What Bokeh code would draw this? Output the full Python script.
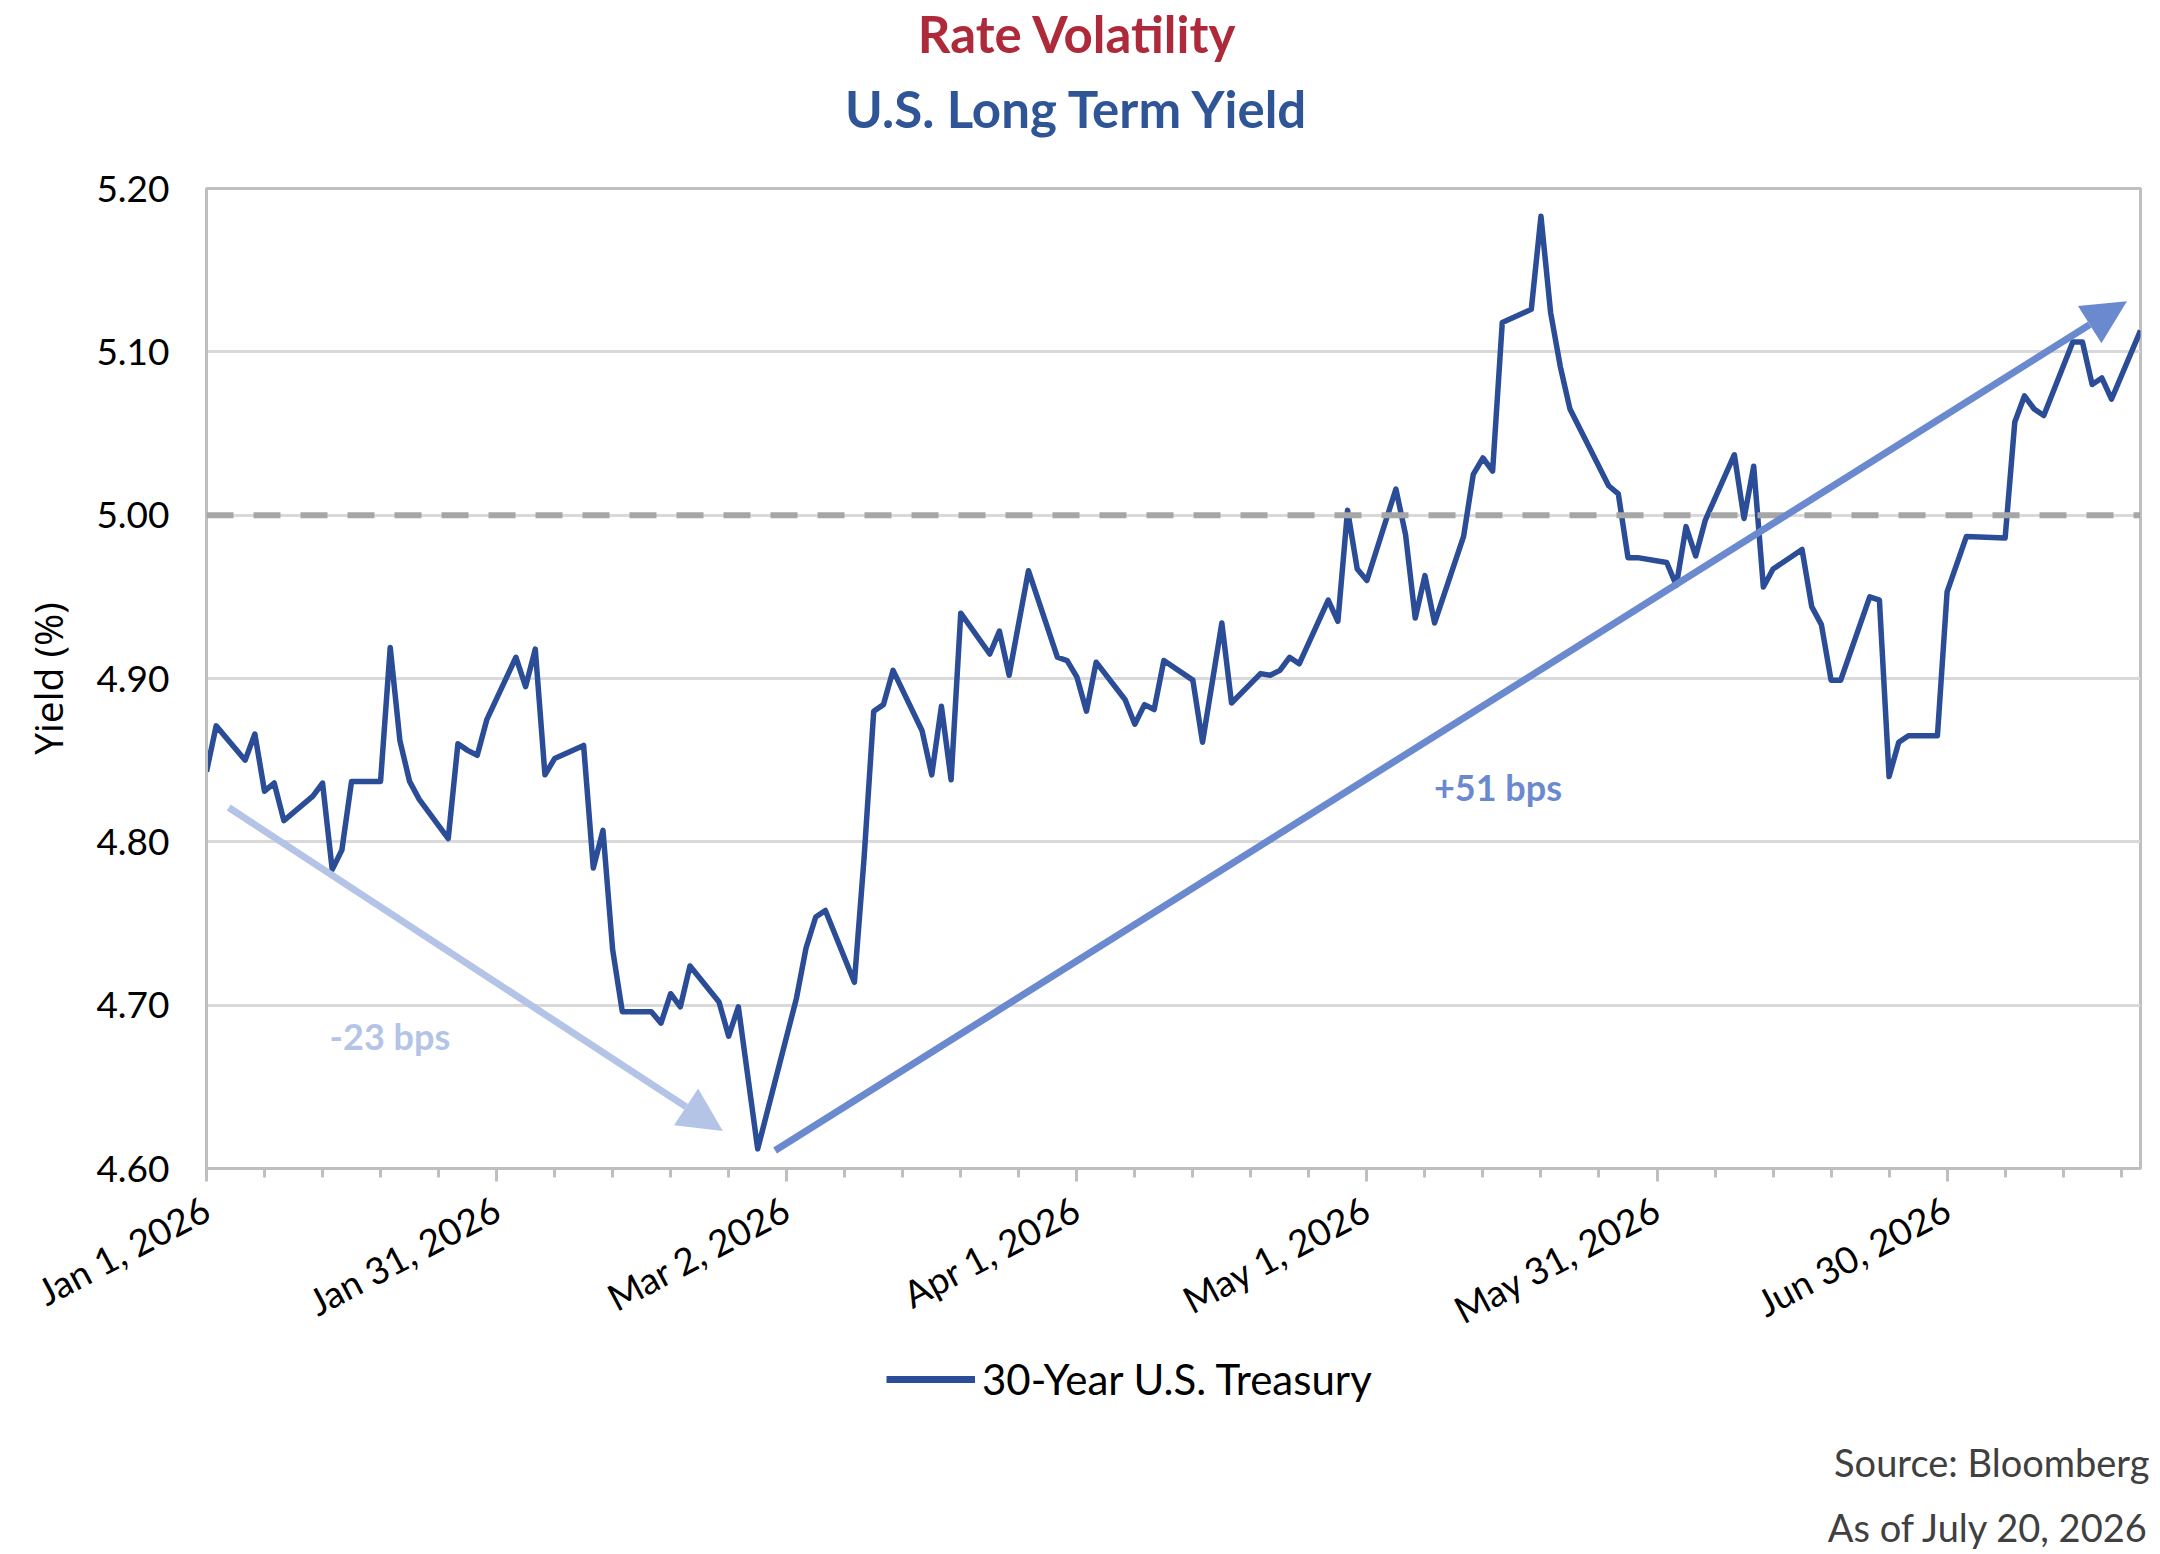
import math
import pandas as pd
from bokeh.plotting import figure
from bokeh.layouts import column
from bokeh.models import (Range1d, FixedTicker, Arrow, NormalHead, Label, Legend,
                          LegendItem, Span)
from bokeh.embed import file_html
from bokeh.resources import INLINE

# ---------------- data ----------------
START = pd.Timestamp("2026-01-01")
END = pd.Timestamp("2026-07-20")

dates = [
    "2026-01-01", "2026-01-02", "2026-01-05", "2026-01-06", "2026-01-07", "2026-01-08",
    "2026-01-09", "2026-01-12", "2026-01-13", "2026-01-14", "2026-01-15", "2026-01-16",
    "2026-01-19", "2026-01-20", "2026-01-21", "2026-01-22", "2026-01-23", "2026-01-26",
    "2026-01-27", "2026-01-28", "2026-01-29", "2026-01-30", "2026-02-02", "2026-02-03",
    "2026-02-04", "2026-02-05", "2026-02-06", "2026-02-09", "2026-02-10", "2026-02-11",
    "2026-02-12", "2026-02-13", "2026-02-16", "2026-02-17", "2026-02-18", "2026-02-19",
    "2026-02-20", "2026-02-23", "2026-02-24", "2026-02-25", "2026-02-27", "2026-03-03",
    "2026-03-04", "2026-03-05", "2026-03-06", "2026-03-09", "2026-03-10", "2026-03-11",
    "2026-03-12", "2026-03-13", "2026-03-16", "2026-03-17", "2026-03-18", "2026-03-19",
    "2026-03-20", "2026-03-23", "2026-03-24", "2026-03-25", "2026-03-27", "2026-03-30",
    "2026-03-31", "2026-04-01", "2026-04-02", "2026-04-03", "2026-04-06", "2026-04-07",
    "2026-04-08", "2026-04-09", "2026-04-10", "2026-04-13", "2026-04-14", "2026-04-16",
    "2026-04-17", "2026-04-20", "2026-04-21", "2026-04-22", "2026-04-23", "2026-04-24",
    "2026-04-27", "2026-04-28", "2026-04-29", "2026-04-30", "2026-05-01", "2026-05-04",
    "2026-05-05", "2026-05-06", "2026-05-07", "2026-05-08", "2026-05-11", "2026-05-12",
    "2026-05-13", "2026-05-14", "2026-05-15", "2026-05-18", "2026-05-19", "2026-05-20",
    "2026-05-21", "2026-05-22", "2026-05-26", "2026-05-27", "2026-05-28", "2026-05-29",
    "2026-06-01", "2026-06-02", "2026-06-03", "2026-06-04", "2026-06-05", "2026-06-08",
    "2026-06-09", "2026-06-10", "2026-06-11", "2026-06-12", "2026-06-15", "2026-06-16",
    "2026-06-17", "2026-06-18", "2026-06-19", "2026-06-22", "2026-06-23", "2026-06-24",
    "2026-06-25", "2026-06-26", "2026-06-29", "2026-06-30", "2026-07-01", "2026-07-02",
    "2026-07-06", "2026-07-07", "2026-07-08", "2026-07-09", "2026-07-10", "2026-07-13",
    "2026-07-14", "2026-07-15", "2026-07-16", "2026-07-17", "2026-07-20",
]

yields = [
    4.843, 4.871, 4.850, 4.866, 4.831, 4.836,
    4.813, 4.828, 4.836, 4.783, 4.795, 4.837,
    4.837, 4.919, 4.862, 4.837, 4.826, 4.802,
    4.860, 4.856, 4.853, 4.875, 4.913, 4.895,
    4.918, 4.841, 4.851, 4.859, 4.784, 4.807,
    4.734, 4.696, 4.696, 4.689, 4.707, 4.699,
    4.724, 4.702, 4.681, 4.699, 4.612, 4.704,
    4.735, 4.754, 4.758, 4.714, 4.790, 4.880,
    4.884, 4.905, 4.868, 4.841, 4.883, 4.838,
    4.940, 4.915, 4.929, 4.902, 4.966, 4.913,
    4.911, 4.901, 4.880, 4.910, 4.887, 4.872,
    4.884, 4.881, 4.911, 4.899, 4.861, 4.934,
    4.885, 4.903, 4.902, 4.905, 4.913, 4.909,
    4.948, 4.935, 5.003, 4.967, 4.960, 5.016,
    4.988, 4.937, 4.963, 4.934, 4.987, 5.025,
    5.035, 5.027, 5.118, 5.126, 5.183, 5.124,
    5.091, 5.065, 5.018, 5.013, 4.974, 4.974,
    4.971, 4.957, 4.993, 4.975, 4.997, 5.037,
    4.998, 5.030, 4.956, 4.967, 4.979, 4.944,
    4.933, 4.899, 4.899, 4.950, 4.948, 4.840,
    4.861, 4.865, 4.865, 4.953, 4.970, 4.987,
    4.986, 5.057, 5.073, 5.065, 5.061, 5.106,
    5.106, 5.080, 5.084, 5.071, 5.113,
]

x_tick_dates = ["2026-01-01", "2026-01-31", "2026-03-02", "2026-04-01",
                "2026-05-01", "2026-05-31", "2026-06-30"]
x_tick_labels = ["Jan 1, 2026", "Jan 31, 2026", "Mar 2, 2026", "Apr 1, 2026",
                 "May 1, 2026", "May 31, 2026", "Jun 30, 2026"]
y_ticks = [4.60, 4.70, 4.80, 4.90, 5.00, 5.10, 5.20]
y_tick_labels = ["4.60", "4.70", "4.80", "4.90", "5.00", "5.10", "5.20"]

reference_level = 5.00

# trend arrows: (day offset start, yield start, day offset end, yield end)
down_arrow = (2.3, 4.821, 53.4, 4.623)
up_arrow = (58.8, 4.611, 198.6, 5.131)
down_label = "-23 bps"
up_label = "+51 bps"

series_name = "30-Year U.S. Treasury"
title_text = "Rate Volatility"
subtitle_text = "U.S. Long Term Yield"
source_lines = ["Source: Bloomberg", "As of July 20, 2026"]

# ---------------- helpers ----------------
def day_of(d):
    return (pd.Timestamp(d) - START).days

xs = [day_of(d) for d in dates]
x_major = [day_of(d) for d in x_tick_dates]
x_minor = list(range(0, day_of(END), 6))
x_end = day_of(END)

LINE = "#2B4C96"
LIGHT = "#B4C4E7"
MID = "#6A89CF"
AXIS = "#BFBFBF"
GRID = "#D9D9D9"
FONT = "Lato"
W = 2160
TOP_H = 150
MAIN_H = 1204
BOT_H = 1554 - TOP_H - MAIN_H
FRAME_TOP = 38
FRAME_H = 980


def blank(height):
    f = figure(width=W, height=height, output_backend="svg", toolbar_location=None,
               title=None, x_range=Range1d(0, W), y_range=Range1d(height, 0),
               x_axis_type=None, y_axis_type=None, min_border=0, frame_align=False)
    f.grid.visible = False
    f.outline_line_color = None
    f.background_fill_color = "white"
    f.border_fill_color = "white"
    return f


# ---------------- title panel ----------------
top = blank(TOP_H)
top.add_layout(Label(x=1077, y=33, text=title_text, text_align="center",
                     text_baseline="alphabetic", text_font=FONT, text_font_style="bold",
                     text_font_size="51px", text_color="#AE2A3A"))
top.add_layout(Label(x=1077, y=108, text=subtitle_text, text_align="center",
                     text_baseline="alphabetic", text_font=FONT, text_font_style="bold",
                     text_font_size="51px", text_color="#2F5597"))

# ---------------- main chart ----------------
p = figure(width=W, height=MAIN_H, output_backend="svg", toolbar_location=None,
           title=None, x_range=Range1d(0, x_end), y_range=Range1d(4.60, 5.20),
           min_border_left=206, min_border_right=20, min_border_top=FRAME_TOP,
           min_border_bottom=MAIN_H - FRAME_TOP - FRAME_H, frame_align=False)
p.background_fill_color = "white"
p.border_fill_color = "white"
p.outline_line_color = AXIS
p.outline_line_width = 3

xa = p.xaxis[0]
xa.ticker = FixedTicker(ticks=x_major, minor_ticks=x_minor)
xa.major_label_overrides = {t: lab for t, lab in zip(x_major, x_tick_labels)}
xa.major_label_orientation = math.radians(28)
xa.major_label_text_font = FONT
xa.major_label_text_font_size = "37px"
xa.major_label_text_color = "#000000"
xa.major_tick_out = 13
xa.major_tick_in = 0
xa.minor_tick_out = 9
xa.minor_tick_in = 0
xa.major_tick_line_color = AXIS
xa.minor_tick_line_color = AXIS
xa.major_tick_line_width = 3
xa.minor_tick_line_width = 3
xa.axis_line_color = AXIS
xa.axis_line_width = 3
xa.major_label_standoff = 24

ya = p.yaxis[0]
ya.ticker = FixedTicker(ticks=y_ticks)
ya.major_label_overrides = {t: lab for t, lab in zip(y_ticks, y_tick_labels)}
ya.major_label_text_font = FONT
ya.major_label_text_font_size = "37px"
ya.major_label_text_color = "#000000"
ya.major_tick_out = 0
ya.major_tick_in = 0
ya.minor_tick_out = 0
ya.minor_tick_in = 0
ya.axis_line_color = AXIS
ya.axis_line_width = 3
ya.major_label_standoff = 37
ya.axis_label = "Yield (%)"
ya.axis_label_text_font = "Open Sans"
ya.axis_label_text_font_size = "39px"
ya.axis_label_text_font_style = "normal"
ya.axis_label_text_color = "#000000"
ya.axis_label_standoff = 19

p.xgrid.visible = False
p.ygrid.ticker = FixedTicker(ticks=y_ticks)
p.ygrid.grid_line_color = GRID
p.ygrid.grid_line_width = 3

p.add_layout(Span(location=reference_level, dimension="width", line_color="#A6A6A6",
                  line_width=6, line_dash="27 20"))

line_r = p.line(xs, yields, line_color=LINE, line_width=5.5, line_join="round")

for (x0, y0, x1, y1), col in ((down_arrow, LIGHT), (up_arrow, MID)):
    p.add_layout(Arrow(end=NormalHead(size=44, fill_color=col, line_color=None),
                       x_start=x0, y_start=y0, x_end=x1, y_end=y1,
                       line_color=col, line_width=7))

p.add_layout(Label(x=18.97, y=4.6814, text=down_label, text_align="center",
                   text_baseline="alphabetic", text_font=FONT, text_font_style="bold",
                   text_font_size="36px", text_color=LIGHT))
p.add_layout(Label(x=133.56, y=4.8338, text=up_label, text_align="center",
                   text_baseline="alphabetic", text_font=FONT, text_font_style="bold",
                   text_font_size="36px", text_color=MID))

# ---------------- legend + source panel ----------------
bot = blank(BOT_H)
# legend proxy: same series, hidden (only its styling is used by the legend)
proxy = bot.line(xs, yields, line_color=LINE, line_width=7, visible=False)
legend = Legend(items=[LegendItem(label=series_name, renderers=[proxy])],
                location=(886, BOT_H - 50), glyph_width=89, glyph_height=50,
                label_height=50, label_standoff=7, padding=0, margin=0, spacing=0,
                border_line_color=None, background_fill_alpha=0,
                inactive_fill_alpha=0,
                label_text_font=FONT, label_text_font_size="42px",
                label_text_color="#000000")
bot.add_layout(legend, "center")
base = TOP_H + MAIN_H
bot.add_layout(Label(x=2149, y=1461 - base, text=source_lines[0],
                     text_align="right", text_baseline="alphabetic", text_font=FONT,
                     text_font_size="38px", text_color="#404040"))
bot.add_layout(Label(x=2149, y=1526 - base, text=source_lines[1],
                     text_align="right", text_baseline="alphabetic", text_font=FONT,
                     text_font_size="38px", text_color="#404040"))

layout = column(top, p, bot, spacing=0)
open("out.html", "w").write(file_html(layout, INLINE))
